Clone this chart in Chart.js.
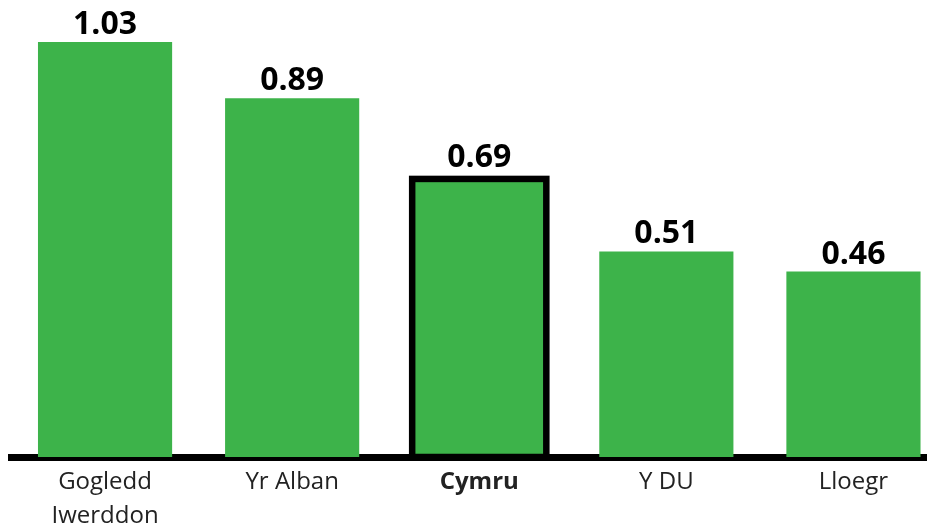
<!DOCTYPE html>
<html>
<head>
<meta charset="utf-8">
<script src="https://cdn.jsdelivr.net/npm/chart.js@4"></script>
<style>
    html, body { margin: 0; padding: 0; background: #fff; overflow: hidden; }
    canvas { display: block; }
</style>
</head>
<body>
<canvas id="ratesChart" width="947" height="526"></canvas>
<script>
const regions = [['Gogledd', 'Iwerddon'], 'Yr Alban', 'Cymru', 'Y DU', 'Lloegr'];
const rates = [1.03, 0.89, 0.69, 0.51, 0.46];
const highlightIndex = 2;

const barGreen = '#3db34a';

// value labels above the bars + outline round Cymru
const barExtras = {
    id: 'barExtras',
    afterDatasetsDraw(chart) {
        const ctx = chart.ctx;
        const meta = chart.getDatasetMeta(0);
        ctx.save();
        meta.data.forEach(function(bar, i) {
            if (i === highlightIndex) {
                ctx.strokeStyle = '#000';
                ctx.lineWidth = 6.5;
                ctx.strokeRect(bar.x - bar.width / 2, bar.y, bar.width, bar.base - bar.y);
            }
            ctx.fillStyle = '#000';
            ctx.font = 'bold 32px "Open Sans"';
            ctx.textAlign = 'center';
            ctx.textBaseline = 'alphabetic';
            const gap = i === highlightIndex ? 12 : 8;
            ctx.fillText(rates[i].toFixed(2), bar.x, bar.y - gap);
        });
        ctx.restore();
    }
};

new Chart(document.getElementById('ratesChart'), {
    type: 'bar',
    data: {
        labels: regions,
        datasets: [{
            data: rates,
            backgroundColor: barGreen,
            borderWidth: 0,
            categoryPercentage: 1,
            barPercentage: 0.717
        }]
    },
    options: {
        responsive: false,
        animation: false,
        layout: { padding: { left: 11.5, right: 0, top: 13.7, bottom: 0 } },
        plugins: {
            legend: { display: false },
            tooltip: { enabled: false }
        },
        scales: {
            x: {
                z: 1,
                grid: { display: false },
                border: { display: true, color: '#000', width: 7 },
                ticks: {
                    color: '#222',
                    padding: 0,
                    font: function(context) {
                        return {
                            family: '"Open Sans"',
                            size: 24,
                            lineHeight: '34px',
                            weight: context.index === highlightIndex ? 'bold' : 'normal'
                        };
                    }
                },
                afterFit: function(scale) { scale.height = 69; }
            },
            y: {
                display: false,
                min: 0,
                max: 1.1
            }
        }
    },
    plugins: [barExtras]
});
</script>
</body>
</html>
